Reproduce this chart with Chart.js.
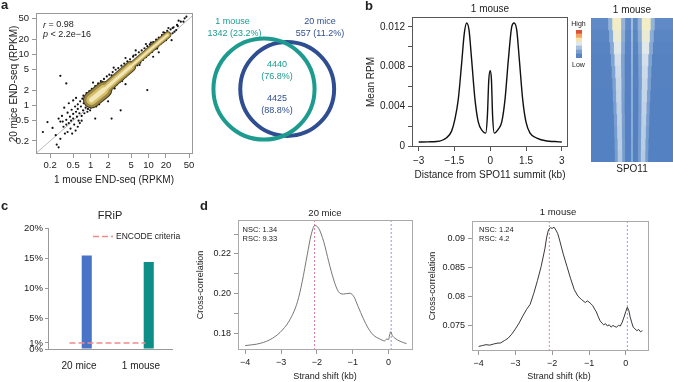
<!DOCTYPE html>
<html>
<head>
<meta charset="utf-8">
<script src="https://cdn.jsdelivr.net/npm/chart.js@4.4.1/dist/chart.umd.min.js"></script>
<style>
  body { margin: 0; background: #fff; width: 673px; height: 382px; overflow: hidden; position: relative; }
  .p { position: absolute; }
</style>
</head>
<body>
<div class="p" style="left:0;top:0;width:200px;height:195px"><canvas id="scatter"></canvas></div>
<div class="p" style="left:196px;top:9px;width:160px;height:160px"><canvas id="venn"></canvas></div>
<div class="p" style="left:360px;top:0;width:232px;height:195px"><canvas id="profile"></canvas></div>
<div class="p" style="left:591px;top:0;width:82px;height:182px"><canvas id="heat"></canvas></div>
<div class="p" style="left:576px;top:30px;width:6px;height:28px"><canvas id="colorbar"></canvas></div>
<div class="p" style="left:0;top:195px;width:200px;height:187px"><canvas id="frip"></canvas></div>
<div class="p" style="left:195px;top:195px;width:225px;height:187px"><canvas id="cc20"></canvas></div>
<div class="p" style="left:420px;top:195px;width:253px;height:187px"><canvas id="cc1"></canvas></div>
<script>
// ---- data ----
// a: END-seq RPKM, 1 mouse (x) vs 20 mice (y), single hotspots
const rpkmDots = [
  [0.15,0.3],[0.18,0.47],[0.22,0.36],[0.26,0.17],[0.28,0.15],[0.3,0.22],[0.3,0.48],[0.32,0.62],[0.34,0.38],[0.36,0.28],
  [0.38,0.52],[0.4,0.72],[0.42,0.45],[0.44,0.6],[0.45,0.35],[0.47,0.82],[0.5,0.55],[0.5,0.68],[0.52,0.42],[0.54,0.95],
  [0.56,0.75],[0.58,0.6],[0.6,1.05],[0.6,0.85],[0.62,0.5],[0.64,0.7],[0.66,1.2],[0.68,0.95],[0.7,0.62],[0.72,1.35],
  [0.74,0.8],[0.76,1.1],[0.78,0.7],[0.8,1.45],[0.82,0.9],[0.85,1.25],[0.88,0.75],[0.92,1.6],[0.95,1.05],[0.98,0.8],
  [0.35,0.9],[0.28,0.55],[0.4,0.3],[0.48,0.28],[0.55,0.32],[0.25,0.26],[0.38,0.42],[0.46,0.5],[0.33,0.48],[0.6,0.38],
  [0.65,0.45],[0.7,0.5],[0.42,1.1],[0.5,1.25],[0.56,1.4],[0.3,3.8],[0.38,2.7],[3.3,0.8],[2.3,0.55],[9.5,2.0],
  [1.2,0.55],[0.75,1.55],[0.85,1.75],[0.95,1.9],[1.05,2.1],[1.2,2.4],[1.35,2.7],[1.5,3.0],[1.7,3.3],[1.9,3.7],
  [2.1,4.0],[2.4,4.5],[2.7,5.0],[3.0,5.4],[3.4,6.0],[3.8,6.6],[4.3,7.3],[4.8,8.0],[5.4,9.0],[6.0,9.8],
  [6.8,11],[7.6,12],[8.5,13.2],[9.5,14.5],[10.5,15.8],[12,17.5],[13.5,19.5],[15,21.5],[17,24],[19,26.5],
  [21,29],[24,31],[27,34],[31,38],[36,44],[42,51],[0.9,0.85],[1.0,0.9],[1.15,1.0],[1.3,1.15],
  [1.5,1.3],[1.7,1.5],[1.9,1.7],[2.2,1.95],[2.5,2.25],[2.8,2.55],[3.2,2.9],[3.6,3.3],[4.0,3.7],[4.5,4.2],
  [5.1,4.8],[5.7,5.4],[6.4,6.1],[7.2,6.9],[8,7.8],[9,8.8],[10,9.8],[11.5,11.2],[13,12.8],[14.5,14.3],
  [16,16],[18,18],[20,20.5],[23,23],[26,26],[30,30],[1.1,2.8],[2,1.2],[4,2.6],[2.5,5.5],
  [4,8.5],[6,12],[9,16],[12,9],[15,11],[25,19],[22,33],[33,46],[40,44],[45,55],
  [0.8,1.2],[0.9,1.5],[1.1,1.75],[1.25,0.95],[1.4,1.05],[1.6,2.9],[2.3,3.9],[2.6,2.15],[3.5,3.0],[5.5,9.5],
  [7,6.2],[11,17],[14,13],[18,27],[28,28],[32,36],[26,33],[20,19]
];
const cloudX = [1.03, 1.69, 2.88, 4.9, 8.4, 14.4, 21.4];
const cloudY = [1.28, 2.02, 3.42, 5.77, 9.8, 16.6, 24.2];
const logTicks = [0.2, 0.5, 1, 2, 5, 10, 20, 50];

// a: Venn of hotspots
const vennSets = ['1 mouse', '20 mice'];
const vennOnly = [1342, 557];
const vennShared = [4440, 4425];

// b: aggregate profile around SPO11 summits
const profileKb  = [-3,-2.6,-2.25,-1.83,-1.62,-1.48,-1.34,-1.2,-1.09,-0.99,-0.89,-0.78,-0.64,-0.5,-0.32,-0.19,-0.12,-0.06,0,0.05,0.1,0.17,0.34,0.48,0.62,0.76,0.9,1.0,1.11,1.22,1.36,1.5,1.67,1.95,2.37,2.7,3];
const profileRpm = [0.0004,0.00042,0.00045,0.00083,0.0015,0.0027,0.0047,0.0083,0.0113,0.0124,0.0117,0.0087,0.0047,0.0024,0.0015,0.0013,0.003,0.0067,0.0076,0.0067,0.003,0.0013,0.0017,0.0024,0.0047,0.0087,0.012,0.0124,0.0117,0.0087,0.0047,0.0024,0.0013,0.0008,0.0005,0.00045,0.0004];

// b: heatmap rows (top = strongest hotspots)
const heatRows    = ['1','2','3','4','5','6','7','8','9','10','11','12'];
const leftCentre  = [-1.12,-1.09,-1.06,-1.04,-1.01,-0.98,-0.97,-0.95,-0.92,-0.91,-0.89,-0.88];
const rightCentre = [1.04,1.01,0.99,0.96,0.94,0.93,0.9,0.88,0.86,0.84,0.82,0.81];
const haloHalf    = [0.6,0.56,0.52,0.48,0.45,0.43,0.41,0.39,0.38,0.37,0.36,0.35];
const coreHalf    = [0.3,0.27,0.24,0.21,0.19,0.18,0.17,0.16,0.15,0.15,0.14,0.14];
const coreLevel   = [0.6,0.56,0.51,0.47,0.45,0.44,0.43,0.42,0.41,0.4,0.4,0.39];
const haloLevel   = [0.3,0.27,0.24,0.22,0.21,0.2,0.2,0.19,0.19,0.18,0.18,0.18];
const centreLevel = [0.34,0.32,0.3,0.29,0.28,0.27,0.27,0.26,0.26,0.26,0.25,0.25];
const bgLevel     = [0.08,0.06,0.05,0.04,0.04,0.04,0.03,0.03,0.03,0.03,0.03,0.03];
const colorbarLevels = [0.05,0.2,0.35,0.5,0.65,0.8,0.95];

// c: FRiP
const fripGroups = ['20 mice', '1 mouse'];
const fripValues = [15.47, 14.38];
const encodeCriterion = 1;
const fripTicks = [0, 1, 5, 10, 15, 20];

// d: strand cross-correlation
const cc20Shift = [-4,-3.57,-3.24,-2.96,-2.73,-2.54,-2.41,-2.27,-2.16,-2.06,-1.95,-1.81,-1.67,-1.53,-1.4,-1.26,-1.08,-0.97,-0.85,-0.71,-0.57,-0.43,-0.25,-0.11,-0.05,0,0.02,0.06,0.1,0.18,0.32,0.5];
const cc20Value = [0.1738,0.175,0.1775,0.1817,0.1876,0.196,0.206,0.2195,0.2296,0.2343,0.2329,0.2262,0.2161,0.2069,0.201,0.1998,0.2002,0.1985,0.1935,0.1876,0.1826,0.1792,0.1772,0.1762,0.1772,0.1768,0.1785,0.1808,0.179,0.1775,0.176,0.1748];
const cc1Shift = [-4,-3.9,-3.8,-3.7,-3.6,-3.5,-3.4,-3.3,-3.2,-3.1,-3.0,-2.9,-2.8,-2.7,-2.6,-2.5,-2.4,-2.3,-2.2,-2.15,-2.1,-2.05,-2.0,-1.95,-1.9,-1.85,-1.8,-1.75,-1.7,-1.6,-1.5,-1.4,-1.3,-1.2,-1.1,-1.05,-1.0,-0.95,-0.9,-0.85,-0.8,-0.75,-0.7,-0.65,-0.6,-0.55,-0.5,-0.45,-0.4,-0.35,-0.3,-0.25,-0.2,-0.15,-0.1,-0.05,0,0.04,0.08,0.12,0.16,0.2,0.25,0.3,0.35,0.4,0.45];
const cc1Value = [0.0715,0.07165,0.0718,0.07172,0.0719,0.07205,0.0721,0.0725,0.0729,0.0736,0.0745,0.0755,0.0767,0.0778,0.0787,0.0806,0.0828,0.0852,0.0882,0.0902,0.0915,0.0918,0.0917,0.0919,0.0914,0.0908,0.0897,0.0885,0.0873,0.0852,0.0831,0.0812,0.0801,0.0795,0.079,0.0793,0.0791,0.0788,0.0785,0.0779,0.0774,0.0766,0.0759,0.0755,0.0752,0.0754,0.075,0.0752,0.0748,0.0751,0.0749,0.0748,0.0751,0.075,0.0756,0.0765,0.0775,0.0782,0.0777,0.0765,0.0756,0.0748,0.0745,0.0742,0.0744,0.074,0.0742];
const fragmentPeak = [-2.07, -2.08];   // red dashed line (20 mice, 1 mouse)
const readLengthPeak = [0.07, 0.04];  // blue dashed line
const nsc = ['1.34', '1.24'];
const rsc = ['9.33', '4.2'];

// ---- helpers ----
const FONT = '"Liberation Sans", Arial, Helvetica, sans-serif';
Chart.defaults.font.family = FONT;
Chart.defaults.color = '#222';
Chart.defaults.animation = false;
Chart.defaults.events = [];
Chart.defaults.plugins.legend.display = false;
Chart.defaults.plugins.tooltip.enabled = false;

const minus = v => String(v).replace('-', '\u2212');
const fixW = w => s => { s.width = w; };
const fixH = h => s => { s.height = h; };
const setTicks = vals => s => { s.ticks = vals.map(v => ({ value: v })); };

// box round the plot region, R style
Chart.register({
  id: 'box',
  afterDatasetsDraw(chart, args, opts) {
    if (!opts.color) return;
    const a = chart.chartArea, ctx = chart.ctx;
    ctx.save();
    ctx.strokeStyle = opts.color;
    ctx.lineWidth = 1;
    ctx.strokeRect(Math.round(a.left) + 0.5, Math.round(a.top) + 0.5,
                   Math.round(a.right - a.left) - 1, Math.round(a.bottom - a.top) - 1);
    ctx.restore();
  }
});

// text placed at page coordinates (ox, oy = canvas offset)
function labels(items, ox, oy) {
  return {
    id: 'labels',
    afterDraw(chart) {
      const ctx = chart.ctx;
      for (const it of items) {
        ctx.save();
        ctx.fillStyle = it.color || '#222';
        ctx.textBaseline = it.base || 'middle';
        ctx.textAlign = 'left';
        ctx.translate(it.x - ox, it.y - oy);
        if (it.rot) ctx.rotate(it.rot * Math.PI / 180);
        const parts = it.parts || [{ t: it.t }];
        const fontOf = p => [p.style || '', it.bold ? 'bold' : '', (it.size || 10) + 'px', FONT].filter(Boolean).join(' ');
        let total = 0;
        parts.forEach(p => { ctx.font = fontOf(p); total += ctx.measureText(p.t).width; });
        let x = it.align === 'left' ? 0 : it.align === 'right' ? -total : -total / 2;
        parts.forEach(p => { ctx.font = fontOf(p); ctx.fillText(p.t, x, 0); x += ctx.measureText(p.t).width; });
        ctx.restore();
      }
    }
  };
}

// heat colour scale, low blue -> high red
const heatStops = [[0, '#4d7bbf'], [0.3, '#93b3d9'], [0.5, '#dfe7ee'], [0.62, '#f6eebb'], [0.8, '#f2a45e'], [1, '#d2382b']];
function heatColour(v) {
  const hex = h => [1, 3, 5].map(i => parseInt(h.slice(i, i + 2), 16));
  for (let i = 1; i < heatStops.length; i++) {
    if (v <= heatStops[i][0]) {
      const [v0, c0] = heatStops[i - 1], [v1, c1] = heatStops[i];
      const f = (v - v0) / (v1 - v0), a = hex(c0), b = hex(c1);
      return 'rgb(' + a.map((x, k) => Math.round(x + (b[k] - x) * f)).join(',') + ')';
    }
  }
  return heatStops[heatStops.length - 1][1];
}

// ---- a: scatter ----
const cloudPts = cloudX.map((x, i) => ({ x, y: cloudY[i] }));
const cloudLayers = [
  { color: '#f1e7b8', w: [1.8, 3, 5] },
  { color: '#d5bd6a', w: [4, 6.5, 10] },
  { color: '#9a8644', w: [6, 9.5, 15] },
  { color: '#3f3414', w: [7, 11, 17] }
];
const cloudSets = [];
cloudLayers.forEach(l => {
  [cloudPts, cloudPts.slice(0, 4), cloudPts.slice(0, 2)].forEach((pts, k) => {
    cloudSets.push({ data: pts, showLine: true, borderColor: l.color, borderWidth: l.w[k],
      borderCapStyle: 'round', borderJoinStyle: 'round', pointRadius: 0, tension: 0.3 });
  });
});

new Chart(document.getElementById('scatter'), {
  type: 'scatter',
  data: {
    datasets: [
      ...cloudSets,
      { data: rpkmDots.map(([x, y]) => ({ x, y })), pointRadius: 1.1, backgroundColor: '#111', borderWidth: 0 },
      { data: [{ x: 0.1, y: 0.1 }, { x: 70, y: 70 }], showLine: true, borderColor: '#aaa', borderWidth: 0.8, pointRadius: 0 }
    ]
  },
  options: {
    responsive: true, maintainAspectRatio: false,
    layout: { padding: { top: 13, right: 7, left: 0, bottom: 0 } },
    scales: {
      x: { type: 'logarithmic', min: 0.114, max: 58.5, afterBuildTicks: setTicks(logTicks), afterFit: fixH(41),
           ticks: { font: { size: 9.5 }, autoSkip: false, maxRotation: 0, padding: 2, callback: v => String(v) },
           grid: { drawOnChartArea: false, tickLength: 4, color: '#999' }, border: { display: false } },
      y: { type: 'logarithmic', min: 0.111, max: 65, afterBuildTicks: setTicks(logTicks), afterFit: fixW(36),
           ticks: { font: { size: 9.5 }, autoSkip: false, padding: 3, callback: v => String(v) },
           grid: { drawOnChartArea: false, tickLength: 4, color: '#999' }, border: { display: false } }
    },
    plugins: { box: { color: '#999' } }
  },
  plugins: [labels([
    { t: 'a', bold: true, size: 13, x: 1, y: 9, align: 'left', base: 'alphabetic' },
    { parts: [{ t: 'r', style: 'italic' }, { t: ' = 0.98' }], size: 9, x: 43, y: 25, align: 'left' },
    { parts: [{ t: 'p', style: 'italic' }, { t: ' < 2.2e\u221216' }], size: 9, x: 43, y: 34.5, align: 'left' },
    { t: '20 mice END-seq (RPKM)', size: 10, x: 14, y: 84, rot: -90 },
    { t: '1 mouse END-seq (RPKM)', size: 10, x: 114, y: 180 }
  ], 0, 0)]
});

// ---- a: Venn ----
const vennColours = ['#1c9b8e', '#2f4d91'];
const vennTotals = vennOnly.map((n, i) => n + vennShared[i]);
const pct = (n, i) => (100 * n / vennTotals[i]).toFixed(1) + '%';
new Chart(document.getElementById('venn'), {
  type: 'scatter',
  data: {
    datasets: [0, 1].map(i => ({
      data: [{ x: i === 0 ? -0.15 : 0.14, y: 0 }],
      pointRadius: 0.665 * Math.sqrt(vennTotals[i]),
      pointBackgroundColor: 'rgba(0,0,0,0)', pointBorderColor: vennColours[i], pointBorderWidth: 4,
      clip: false
    }))
  },
  options: {
    responsive: true, maintainAspectRatio: false,
    layout: { padding: 0, autoPadding: false },
    scales: { x: { display: false, min: -1, max: 1 }, y: { display: false, min: -1, max: 1 } }
  },
  plugins: [labels([
    { t: vennSets[0], size: 9, x: 232.5, y: 22, color: vennColours[0] },
    { t: vennOnly[0] + ' (' + pct(vennOnly[0], 0) + ')', size: 9, x: 234.5, y: 33.5, color: vennColours[0] },
    { t: vennSets[1], size: 9, x: 320, y: 22, color: vennColours[1] },
    { t: vennOnly[1] + ' (' + pct(vennOnly[1], 1) + ')', size: 9, x: 320, y: 33.5, color: vennColours[1] },
    { t: String(vennShared[0]), size: 9, x: 277, y: 65, color: vennColours[0] },
    { t: '(' + pct(vennShared[0], 0) + ')', size: 9, x: 277, y: 77, color: vennColours[0] },
    { t: String(vennShared[1]), size: 9, x: 277, y: 99, color: vennColours[1] },
    { t: '(' + pct(vennShared[1], 1) + ')', size: 9, x: 277, y: 111, color: vennColours[1] }
  ], 196, 9)]
});

// ---- b: profile ----
new Chart(document.getElementById('profile'), {
  type: 'line',
  data: {
    datasets: [{ data: profileKb.map((x, i) => ({ x, y: profileRpm[i] })), borderColor: '#111', borderWidth: 1.4,
                 pointRadius: 0, cubicInterpolationMode: 'monotone' }]
  },
  options: {
    responsive: true, maintainAspectRatio: false,
    layout: { padding: { top: 17, right: 24, left: 0, bottom: 0 } },
    scales: {
      x: { type: 'linear', min: -3.28, max: 3.26, afterBuildTicks: setTicks([-3, -1.5, 0, 1.5, 3]), afterFit: fixH(48),
           ticks: { font: { size: 10 }, autoSkip: false, maxRotation: 0, padding: 4, callback: v => minus(v) },
           grid: { drawOnChartArea: false, tickLength: 4, color: '#555' }, border: { display: false } },
      y: { min: -0.0001, max: 0.013, afterBuildTicks: setTicks([0, 0.002, 0.004, 0.006, 0.008, 0.01, 0.012]), afterFit: fixW(52),
           ticks: { font: { size: 10 }, autoSkip: false, padding: 3,
                    callback: (v, i) => ['0', '', '0.004', '', '0.008', '', '0.012'][i] },
           grid: { drawOnChartArea: false, tickLength: 4, color: '#555' }, border: { display: false } }
    },
    plugins: { box: { color: '#555' } }
  },
  plugins: [labels([
    { t: 'b', bold: true, size: 13, x: 365, y: 10, align: 'left', base: 'alphabetic' },
    { t: '1 mouse', size: 10, x: 490, y: 9 },
    { t: 'Mean RPM', size: 10, x: 371, y: 82, rot: -90 },
    { t: 'Distance from SPO11 summit (kb)', size: 10, x: 490, y: 175 },
    { t: 'High', size: 7, x: 578.5, y: 24 },
    { t: 'Low', size: 7, x: 578.5, y: 65 }
  ], 360, 0)]
});

// ---- b: heatmap ----
const band = (centre, half) => heatRows.map((_, i) => [centre[i] - half[i], centre[i] + half[i]]);
const zeros = heatRows.map(() => 0);
const heatSet = (data, levels) => ({ data, backgroundColor: levels.map(heatColour), grouped: false,
                                     barPercentage: 1, categoryPercentage: 1, borderWidth: 0 });
new Chart(document.getElementById('heat'), {
  type: 'bar',
  data: {
    labels: heatRows,
    datasets: [
      heatSet(band(zeros, heatRows.map(() => 0.05)), centreLevel),
      heatSet(band(leftCentre, coreHalf), coreLevel),
      heatSet(band(rightCentre, coreHalf), coreLevel),
      heatSet(band(leftCentre, haloHalf), haloLevel),
      heatSet(band(rightCentre, haloHalf), haloLevel),
      heatSet(heatRows.map(() => [-3, 3]), bgLevel)
    ]
  },
  options: {
    indexAxis: 'y',
    responsive: true, maintainAspectRatio: false,
    layout: { padding: { top: 18, bottom: 20, left: 0, right: 0 } },
    scales: { x: { display: false, min: -3, max: 3 }, y: { display: false } }
  },
  plugins: [labels([
    { t: '1 mouse', size: 10, x: 632, y: 10 },
    { t: 'SPO11', size: 10, x: 632, y: 169 }
  ], 591, 0)]
});

// colour key
new Chart(document.getElementById('colorbar'), {
  type: 'bar',
  data: {
    labels: [''],
    datasets: colorbarLevels.map(v => ({ data: [1], backgroundColor: heatColour(v), barPercentage: 1, categoryPercentage: 1 }))
  },
  options: {
    responsive: true, maintainAspectRatio: false,
    layout: { padding: 0 },
    scales: { x: { display: false, stacked: true }, y: { display: false, stacked: true, min: 0, max: colorbarLevels.length } }
  }
});

// ---- c: FRiP ----
new Chart(document.getElementById('frip'), {
  type: 'bar',
  data: {
    labels: fripGroups,
    datasets: [
      { type: 'line', xAxisID: 'xl', data: [{ x: 0.01, y: encodeCriterion }, { x: 0.93, y: encodeCriterion }],
        borderColor: '#ee8c8c', borderWidth: 1.6, borderDash: [6, 3], pointRadius: 0 },
      { data: fripValues, backgroundColor: ['#4873c6', '#0d8f88'], barPercentage: 0.65, categoryPercentage: 0.5 }
    ]
  },
  options: {
    responsive: true, maintainAspectRatio: false,
    layout: { padding: { top: 33, right: 28, left: 0, bottom: 0 } },
    scales: {
      x: { afterFit: fixH(33), ticks: { font: { size: 10 }, padding: 3 }, grid: { display: false },
           border: { display: true, color: '#999' } },
      xl: { type: 'linear', display: false, min: 0, max: 1 },
      y: { min: 0, max: 20, afterBuildTicks: setTicks(fripTicks), afterFit: fixW(48),
           ticks: { font: { size: 9.5 }, autoSkip: false, padding: 2, callback: v => v + '%' },
           grid: { drawOnChartArea: false, tickLength: 3, color: '#999' }, border: { display: true, color: '#999' } }
    }
  },
  plugins: [
    labels([
      { t: 'c', bold: true, size: 13, x: 1, y: 210, align: 'left', base: 'alphabetic' },
      { t: 'FRiP', size: 11, x: 110, y: 216 },
      { t: 'ENCODE criteria', size: 8.5, x: 116, y: 236.5, align: 'left' }
    ], 0, 195),
    {
      id: 'encodeKey',
      afterDraw(chart) {
        const ds = chart.data.datasets[0], ctx = chart.ctx;
        ctx.save();
        ctx.strokeStyle = ds.borderColor; ctx.lineWidth = ds.borderWidth; ctx.setLineDash(ds.borderDash);
        ctx.beginPath(); ctx.moveTo(93, 236.5 - 195); ctx.lineTo(113, 236.5 - 195); ctx.stroke();
        ctx.restore();
      }
    }
  ]
});

// ---- d: cross-correlation ----
function ccChart(id, shifts, values, k, cfg) {
  const { ymin, ymax, yTicks, yLabels, yWidth, pad, xHeight, xmin, xmax, colour, width, tension, ox, text } = cfg;
  new Chart(document.getElementById(id), {
    type: 'line',
    data: {
      datasets: [
        { data: shifts.map((x, i) => ({ x, y: values[i] })), borderColor: colour, borderWidth: width,
          pointRadius: 0, tension, cubicInterpolationMode: tension ? 'monotone' : 'default' },
        { data: [{ x: fragmentPeak[k], y: ymin }, { x: fragmentPeak[k], y: ymax }], borderColor: '#e0607a',
          borderWidth: 0.8, borderDash: [2, 2], pointRadius: 0 },
        { data: [{ x: readLengthPeak[k], y: ymin }, { x: readLengthPeak[k], y: ymax }], borderColor: '#7a7ae6',
          borderWidth: 0.8, borderDash: [2, 2], pointRadius: 0 }
      ]
    },
    options: {
      responsive: true, maintainAspectRatio: false,
      layout: { padding: pad },
      scales: {
        x: { type: 'linear', min: xmin, max: xmax, afterBuildTicks: setTicks([-4, -3, -2, -1, 0]), afterFit: fixH(xHeight),
             ticks: { font: { size: 9 }, autoSkip: false, maxRotation: 0, padding: 3, callback: v => minus(v) },
             grid: { drawOnChartArea: false, tickLength: 4, color: '#999' }, border: { display: false } },
        y: { min: ymin, max: ymax, afterBuildTicks: setTicks(yTicks), afterFit: fixW(yWidth),
             ticks: { font: { size: 9 }, autoSkip: false, padding: 3, callback: (v, i) => yLabels[i] },
             grid: { drawOnChartArea: false, tickLength: 4, color: '#999' }, border: { display: false } }
      },
      plugins: { box: { color: '#aaa' } }
    },
    plugins: [labels(text, ox, 195)]
  });
}

ccChart('cc20', cc20Shift, cc20Value, 0, {
  ymin: 0.1716, ymax: 0.2371, yTicks: [0.18, 0.19, 0.2, 0.21, 0.22, 0.23], yLabels: ['0.18', '', '0.20', '', '0.22', ''],
  yWidth: 43, pad: { top: 25, right: 7, left: 0, bottom: 0 }, xHeight: 32, xmin: -4.2, xmax: 0.68,
  colour: '#666', width: 0.9, tension: 0.4, ox: 195,
  text: [
    { t: 'd', bold: true, size: 13, x: 200, y: 210, align: 'left', base: 'alphabetic' },
    { t: '20 mice', size: 9.5, x: 325, y: 213 },
    { t: 'Cross-correlation', size: 9, x: 201, y: 285, rot: -90 },
    { t: 'Strand shift (kb)', size: 9, x: 325, y: 377 },
    { t: 'NSC: ' + nsc[0], size: 7.5, x: 242.5, y: 229.5, align: 'left' },
    { t: 'RSC: ' + rsc[0], size: 7.5, x: 242.5, y: 238.5, align: 'left' }
  ]
});

ccChart('cc1', cc1Shift, cc1Value, 1, {
  ymin: 0.07072, ymax: 0.09296, yTicks: [0.075, 0.08, 0.085, 0.09], yLabels: ['0.075', '0.08', '0.085', '0.09'],
  yWidth: 52, pad: { top: 26, right: 24, left: 0, bottom: 0 }, xHeight: 31, xmin: -4.18, xmax: 0.63,
  colour: '#222', width: 0.9, tension: 0, ox: 420,
  text: [
    { t: '1 mouse', size: 9.5, x: 558, y: 212 },
    { t: 'Cross-correlation', size: 9, x: 433, y: 286, rot: -90 },
    { t: 'Strand shift (kb)', size: 9, x: 559, y: 377 },
    { t: 'NSC: ' + nsc[1], size: 7.5, x: 479, y: 229.5, align: 'left' },
    { t: 'RSC: ' + rsc[1], size: 7.5, x: 479, y: 238.5, align: 'left' }
  ]
});
</script>
</body>
</html>
